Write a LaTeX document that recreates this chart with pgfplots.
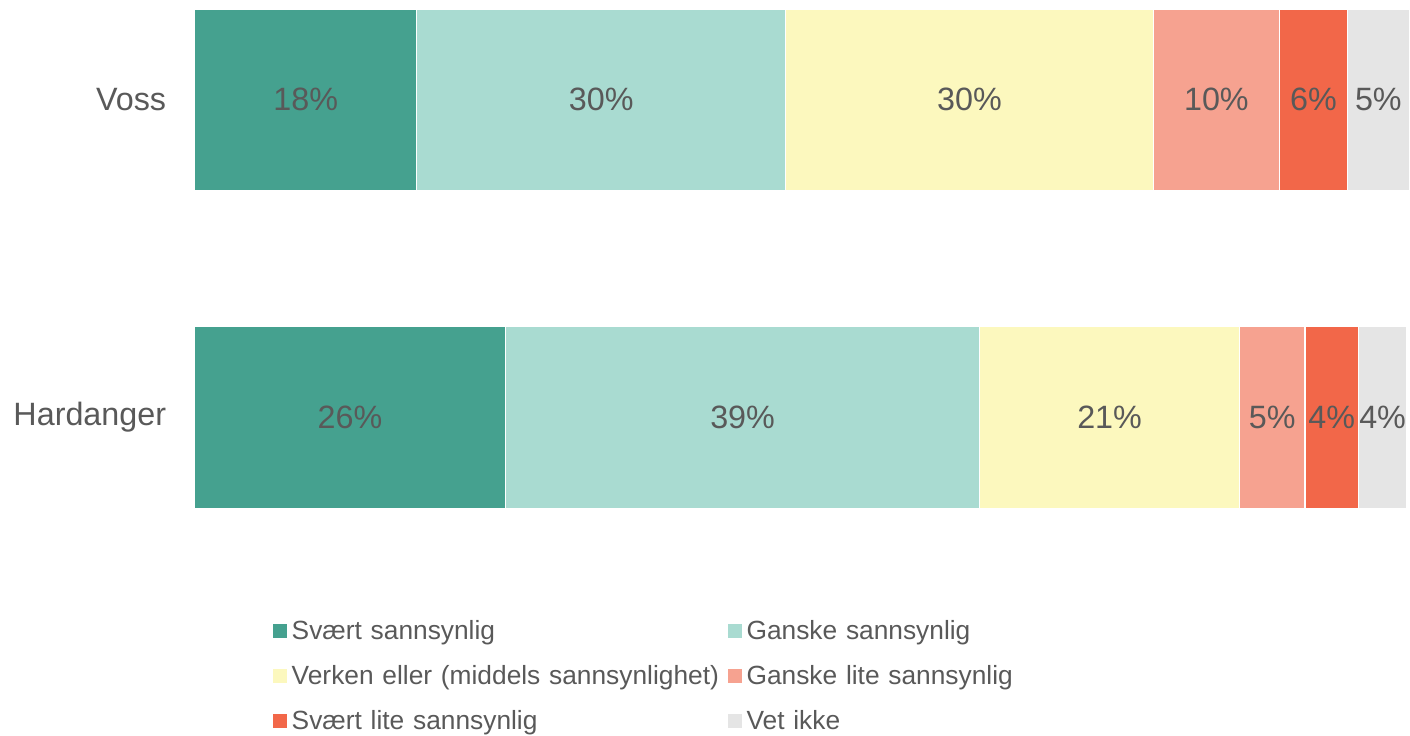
\documentclass[border=0pt]{standalone}
\usepackage{fontspec}
\setmainfont{Liberation Sans}
\usepackage{pgfplots}
\pgfplotsset{compat=1.18}
\usepackage{pgfplotstable}

\definecolor{c1}{HTML}{45A18F}
\definecolor{c2}{HTML}{A9DBD1}
\definecolor{c3}{HTML}{FCF8BE}
\definecolor{c4}{HTML}{F6A290}
\definecolor{c5}{HTML}{F26749}
\definecolor{c6}{HTML}{E5E5E5}
\definecolor{txt}{HTML}{595959}

% share of answers in percent, y=0 Hardanger, y=1 Voss
\pgfplotstableread{
y  sa   ga   ve   gla  sla  vi
0  25.6 39.1 21.4 5.4  4.4  4.0
1  18.3 30.4 30.3 10.4 5.6  5.1
}\data

\pgfplotsset{
  seg/.style={fill=#1, draw=white, line width=0.4pt},
}

\begin{document}
\begin{tikzpicture}
\begin{axis}[
  xbar stacked,
  scale only axis, width=121.5mm, height=56mm,
  xmin=0, xmax=100, ymin=-0.4465, ymax=1.3145,
  bar width=18.2mm, clip=false,
  axis line style={draw=none},
  xtick=\empty, ytick={0,1}, yticklabels={Hardanger,Voss},
  major tick length=0pt,
  yticklabel style={font=\fontsize{9.2}{11}\selectfont, text=txt, inner sep=0pt, xshift=-2.8mm},
  point meta=explicit symbolic,
  % pgfplots already centres these in each stacked segment
  nodes near coords={\pgfmathprintnumber[fixed,precision=0,assume math mode=true]{\pgfplotspointmeta}\%},
  every node near coord/.append style={font=\fontsize{9.2}{11}\selectfont, text=txt,
    anchor=center, inner sep=0pt},
  legend image code/.code={
    \path (0mm,0mm) -- (1.8mm,0mm);
    \fill[#1, draw=none] (0mm,-0.45mm) rectangle (1.4mm,0.95mm);
  },
  legend columns=2, legend cell align=left,
  legend style={at={(axis description cs:0.0634,-0.109)}, anchor=north west,
    draw=none, fill=none, inner sep=0pt, font=\fontsize{7.5}{9}\selectfont, text=txt,
    row sep=2.0mm, nodes={inner sep=0pt, text height=1.9mm, text depth=0.6mm, text width=43.6mm}},
]
\addplot[seg=c1] table[x=sa, y=y, meta=sa] {\data};
\addplot[seg=c2] table[x=ga, y=y, meta=ga] {\data};
\addplot[seg=c3] table[x=ve, y=y, meta=ve] {\data};
\addplot[seg=c4] table[x=gla, y=y, meta=gla] {\data};
\addplot[seg=c5] table[x=sla, y=y, meta=sla] {\data};
\addplot[seg=c6] table[x=vi, y=y, meta=vi] {\data};
\legend{Svært sannsynlig, Ganske sannsynlig, Verken eller (middels sannsynlighet), Ganske lite sannsynlig, Svært lite sannsynlig, Vet ikke}
\coordinate (tr) at (rel axis cs:1,1);
\end{axis}
\path (tr) rectangle ++(-141mm,-73.4mm);
\end{tikzpicture}
\end{document}
